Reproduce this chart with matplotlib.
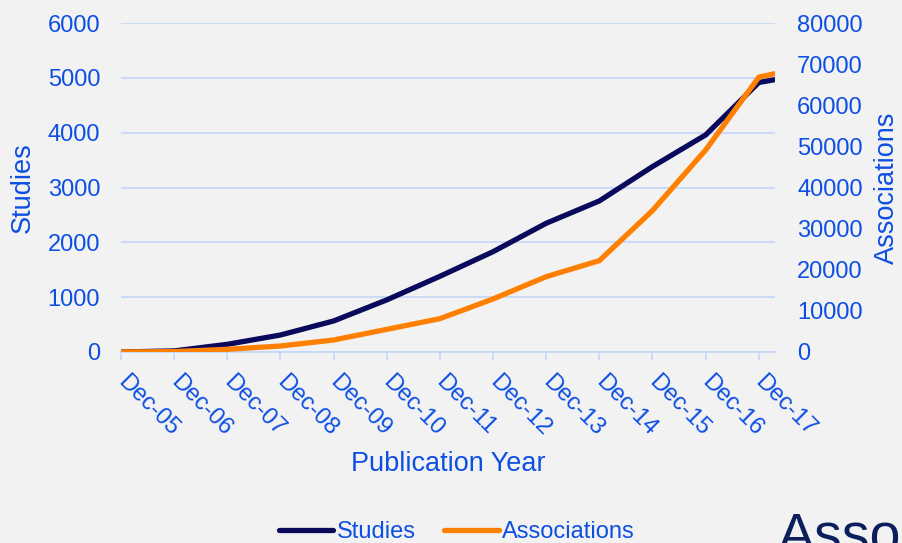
import datetime as dt
import matplotlib
matplotlib.use("Agg")
import matplotlib.pyplot as plt
import matplotlib.dates as mdates
from matplotlib.ticker import MultipleLocator

plt.rcParams['font.family'] = ['Liberation Sans', 'DejaVu Sans']

# Cumulative counts by publication date
dates = [dt.date(y, 12, 1) for y in range(2005, 2018)] + [dt.date(2018, 3, 15)]
studies = [0, 20, 140, 310, 566, 950, 1380, 1830, 2348, 2755, 3381, 3960, 4915, 4964]
associations = [0, 100, 650, 1460, 2920, 5500, 8100, 12900, 18320, 22210, 34380,
                49150, 66830, 67640]
tick_dates = [dt.date(y, 12, 1) for y in range(2005, 2018)]

TEXT = '#0d4fe3'
GRID = '#c6d8f8'
NAVY = '#0a0a5c'
ORANGE = '#ff8000'
BG = '#f2f2f2'
FS = 17
TITLE_FS = 19.5

fig = plt.figure(figsize=(9.02, 5.43), dpi=100, facecolor=BG)
ax = fig.add_axes([121 / 902, 1 - 352 / 543, (775 - 121) / 902, (352 - 23) / 543])
ax.set_facecolor(BG)
ax2 = ax.twinx()

l1, = ax.plot(dates, studies, color=NAVY, lw=3.8, solid_capstyle='round',
              solid_joinstyle='round', label='Studies')
l2, = ax2.plot(dates, associations, color=ORANGE, lw=3.8, solid_capstyle='round',
               solid_joinstyle='round', label='Associations')

ax.set_xlim(dt.date(2005, 12, 1), dt.date(2018, 3, 22))
ax.set_ylim(0, 6000)
ax2.set_ylim(0, 80000)
ax.yaxis.set_major_locator(MultipleLocator(1000))
ax2.yaxis.set_major_locator(MultipleLocator(10000))

ax.grid(axis='y', color=GRID, lw=1.3)
ax.set_axisbelow(True)
for a in (ax, ax2):
    for s in a.spines.values():
        s.set_visible(False)
ax.spines['bottom'].set_visible(True)
ax.spines['bottom'].set_color(GRID)
ax.spines['bottom'].set_linewidth(1.3)

ax.set_xticks(tick_dates)
ax.xaxis.set_major_formatter(mdates.DateFormatter('%b-%y'))
ax.tick_params(axis='x', colors=GRID, length=6, width=1.3, labelcolor=TEXT,
               labelsize=FS, pad=13.5)
for lab in ax.get_xticklabels():
    lab.set_rotation(-45)
    lab.set_ha('left')
    lab.set_va('center')
    lab.set_rotation_mode('anchor')

ax.tick_params(axis='y', length=0, labelcolor=TEXT, labelsize=FS, pad=15)
ax2.tick_params(axis='y', length=0, labelcolor=TEXT, labelsize=FS, pad=16)

ax.set_ylabel('Studies', color=TEXT, fontsize=TITLE_FS, va='center', ha='center')
ax.yaxis.set_label_coords((23 - 121) / 654, 0.5)
ax2.set_ylabel('Associations', color=TEXT, fontsize=TITLE_FS, rotation=90,
               va='center', ha='center')
ax2.yaxis.set_label_coords((887 - 121) / 654, 0.5)
ax.set_xlabel('Publication Year', color=TEXT, fontsize=TITLE_FS, va='center', ha='center')
ax.xaxis.set_label_coords(0.5, (352 - 464) / 329)

fig.legend(handles=[l1, l2], loc='center', bbox_to_anchor=(457 / 902, 1 - 532 / 543),
           ncol=2, frameon=False, fontsize=FS, labelcolor=TEXT, handlelength=2.3,
           handletextpad=0.15, columnspacing=1.2, borderaxespad=0)

fig.text(778 / 902, 1 - 552 / 543, 'Associations', color='#0c1e5c', fontsize=40,
         ha='left', va='baseline')

fig.savefig('out.png', dpi=100, facecolor=BG)
